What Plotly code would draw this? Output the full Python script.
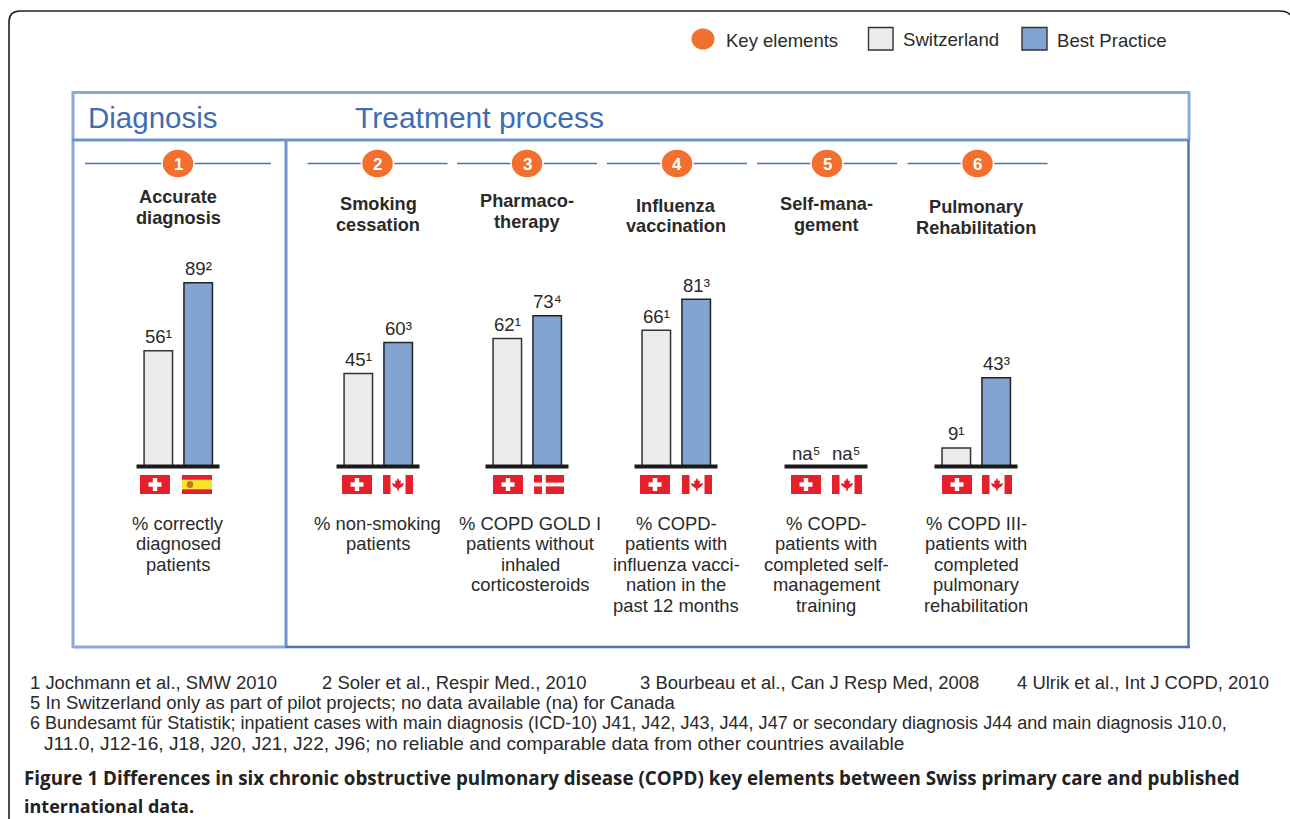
import plotly.graph_objects as go

# ---------- data ----------
swiss_values = [56, 45, 62, 66, None, 9]
best_values = [89, 60, 73, 81, None, 43]
swiss_refs = ["¹", "¹", "¹", "¹", "⁵", "¹"]
best_refs = ["²", "³", "⁴", "³", "⁵", "³"]
element_titles = [["Accurate", "diagnosis"], ["Smoking", "cessation"], ["Pharmaco-", "therapy"],
                  ["Influenza", "vaccination"], ["Self-mana-", "gement"], ["Pulmonary", "Rehabilitation"]]
element_notes = [["% correctly", "diagnosed", "patients"],
                 ["% non-smoking", "patients"],
                 ["% COPD GOLD I", "patients without", "inhaled", "corticosteroids"],
                 ["% COPD-", "patients with", "influenza vacci-", "nation in the", "past 12 months"],
                 ["% COPD-", "patients with", "completed self-", "management", "training"],
                 ["% COPD III-", "patients with", "completed", "pulmonary", "rehabilitation"]]
best_flags = ["ES", "CA", "DK", "CA", "CA", "CA"]
footnotes_row1 = ["1 Jochmann et al., SMW 2010", "2 Soler et al., Respir Med., 2010",
                  "3 Bourbeau et al., Can J Resp Med, 2008", "4 Ulrik et al., Int J COPD, 2010"]
footnote5 = "5 In Switzerland only as part of pilot projects; no data available (na) for Canada"
footnote6a = "6 Bundesamt für Statistik; inpatient cases with main diagnosis (ICD-10) J41, J42, J43, J44, J47 or secondary diagnosis J44 and main diagnosis J10.0,"
footnote6b = "J11.0, J12-16, J18, J20, J21, J22, J96; no reliable and comparable data from other countries available"
caption1 = "Figure 1 Differences in six chronic obstructive pulmonary disease (COPD) key elements between Swiss primary care and published"
caption2 = "international data."

# ---------- layout constants (pixels) ----------
W, H = 1290, 819
BASE_Y = 466.5
PX_PER_UNIT = 2.065
group_x = [178, 378, 527, 676, 826, 976]
badge_x = [178, 377.5, 527, 677, 827, 977.5]
rule_half = [93, 70, 70, 70, 70, 70]
title_y = [197, 204, 201, 205.5, 204, 207]
note_x = [178, 377.5, 530, 676, 826, 976]
ch_flag_x = [155, 357, 508, 655, 806, 957]
other_flag_x = [197, 398, 549, 697, 847, 997]
FONT = "Liberation Sans"
TXT = "#2a2a2a"
LIGHT = "#8aaad8"
MID = "#6f95cb"
DARK = "#4a74b4"
HEAD = "#3f6db1"
ORANGE = "#f36f2e"
GREY = "#ebebed"
BLUE = "#82a4d3"
RED = "#e6202a"

fig = go.Figure()
x_sw = [g - 19.7 for g in group_x]
x_bp = [g + 20.2 for g in group_x]
fig.add_bar(x=x_sw, y=swiss_values, width=28.5, name="Switzerland", marker=dict(color=GREY, line=dict(color="#333", width=1.5)), showlegend=False, hoverinfo="skip")
fig.add_bar(x=x_bp, y=best_values, width=28.5, name="Best Practice", marker=dict(color=BLUE, line=dict(color="#222", width=1.5)), showlegend=False, hoverinfo="skip")

shapes, notes = [], []

def line(x0, y0, x1, y1, color, width):
    shapes.append(dict(type="line", xref="x", yref="y2", x0=x0, y0=y0, x1=x1, y1=y1, line=dict(color=color, width=width)))

def rect(x0, y0, x1, y1, fill, lc=None, lw=0):
    shapes.append(dict(type="rect", xref="x", yref="y2", x0=x0, y0=y0, x1=x1, y1=y1, fillcolor=fill, line=dict(color=lc or fill, width=lw)))

def ell(cx, cy, rx, ry, fill, lc=None, lw=0):
    shapes.append(dict(type="circle", xref="x", yref="y2", x0=cx - rx, y0=cy - ry, x1=cx + rx, y1=cy + ry, fillcolor=fill, line=dict(color=lc or fill, width=lw)))

def text(x, y, s, size, color=TXT, anchor="center", family=FONT):
    if anchor == "left":
        x -= 2  # annotation box padding
    notes.append(dict(xref="x", yref="y2", x=x, y=y, text=s, showarrow=False, xanchor=anchor, yanchor="middle",
                      font=dict(family=family, size=size, color=color)))

# outer frame
shapes.append(dict(type="path", xref="x", yref="y2", path=f"M 9,{H} L 9,22 Q 9,11 20,11 L 1279,11 Q 1288,11 1290,15",
                   line=dict(color="#222", width=1.6)))

# panels
line(72, 92.5, 1190, 92.5, LIGHT, 3)
line(73, 91, 73, 648, LIGHT, 3)
line(1189, 92, 1189, 140, LIGHT, 3)
line(72, 140, 1190, 140, MID, 3)
line(73, 647, 286, 647, LIGHT, 3)
line(286, 139, 286, 648, MID, 3)
line(286, 647, 1190, 647, DARK, 2.6)
line(1188.5, 140, 1188.5, 648, DARK, 2.4)

text(87.5, 117.5, "Diagnosis", 29.5, HEAD, "left")
text(355, 117.5, "Treatment process", 30, HEAD, "left")

# legend
ell(703, 39, 11.5, 10.5, ORANGE)
text(726, 40, "Key elements", 18.5, TXT, "left")
rect(868.5, 27.5, 893, 50, GREY, "#333", 1.4)
text(903, 39, "Switzerland", 18.6, TXT, "left")
rect(1022, 27.5, 1047, 50, BLUE, "#333", 1.4)
text(1057, 40, "Best Practice", 18.6, TXT, "left")

def flag_ch(cx):
    x0, y0, w, h = cx - 15, 475, 30, 19
    rect(x0, y0, x0 + w, y0 + h, RED)
    rect(cx - 6.5, y0 + 7.3, cx + 6.5, y0 + 11.7, "white")
    rect(cx - 2.2, y0 + 3, cx + 2.2, y0 + 16, "white")

def flag_ca(cx):
    x0, y0, w, h = cx - 15, 475, 30, 19
    rect(x0, y0, x0 + w, y0 + h, "white")
    rect(x0, y0, x0 + 7.5, y0 + h, RED)
    rect(x0 + w - 7.5, y0, x0 + w, y0 + h, RED)
    cy = y0 + 9
    shapes.append(dict(type="path", xref="x", yref="y2",
                       path=f"M {cx},{cy-6} L {cx+1.5},{cy-3} L {cx+3},{cy-3.5} L {cx+2.5},{cy} L {cx+6},{cy-1} L {cx+5},{cy+2} "
                            f"L {cx+1},{cy+4.5} L {cx+.5},{cy+7} L {cx-.5},{cy+7} L {cx-1},{cy+4.5} L {cx-5},{cy+2} L {cx-6},{cy-1} L {cx-2.5},{cy} L {cx-3},{cy-3.5} L {cx-1.5},{cy-3} Z",
                       fillcolor=RED, line=dict(color=RED, width=0)))

def flag_es(cx):
    x0, y0, w, h = cx - 15, 475, 30, 19
    rect(x0, y0, x0 + w, y0 + h, RED)
    rect(x0, y0 + 4.7, x0 + w, y0 + 14.3, "#f7e32a")
    ell(x0 + 8, y0 + 9.5, 3.2, 3.6, "#c9702f")

def flag_dk(cx):
    x0, y0, w, h = cx - 15, 475, 30, 19
    rect(x0, y0, x0 + w, y0 + h, RED)
    rect(x0, y0 + 7.6, x0 + w, y0 + 11.4, "white")
    rect(x0 + 8, y0, x0 + 11.8, y0 + h, "white")

flag_draw = {"ES": flag_es, "CA": flag_ca, "DK": flag_dk}

for i, g in enumerate(group_x):
    b = badge_x[i]
    line(b - rule_half[i], 163.5, b + rule_half[i], 163.5, DARK, 1.4)
    ell(b, 163.5, 16, 14.5, ORANGE, "white", 1.5)
    text(b, 164, f"<b>{i + 1}</b>", 17, "white")
    for k, s in enumerate(element_titles[i]):
        text(g, title_y[i] + 20.5 * k, f"<b>{s}</b>", 18.2)
    line(g - 41.5, BASE_Y, g + 41.5, BASE_Y, "#1a1a1a", 4)
    flag_ch(ch_flag_x[i])
    flag_draw[best_flags[i]](other_flag_x[i])
    for k, s in enumerate(element_notes[i]):
        text(note_x[i], 523 + 20.5 * k, s, 18.4)

    # value labels sit above their bars, on the value axis
    for xs, vals, refs in ((x_sw, swiss_values, swiss_refs), (x_bp, best_values, best_refs)):
        v = vals[i]
        label = f"{v if v is not None else 'na'}{refs[i]}"
        notes.append(dict(xref="x", yref="y", x=xs[i], y=v if v is not None else 0, text=label, showarrow=False,
                          yanchor="middle", xanchor="center", yshift=14 if v is not None else 13,
                          font=dict(family=FONT, size=18.6, color=TXT)))

# footnotes
for x, s in zip([30, 322, 640, 1017], footnotes_row1):
    text(x, 682, s, 18.45, TXT, "left")
text(30, 702, footnote5, 18.47, TXT, "left")
text(30, 723, footnote6a, 18.05, TXT, "left")
text(44, 743, footnote6b, 19.1, TXT, "left")
text(24, 778, f"<b>{caption1}</b>", 18.8, "#222", "left", "Open Sans")
text(24, 806, f"<b>{caption2}</b>", 18.0, "#222", "left", "Open Sans")

fig.update_layout(
    width=W, height=H, margin=dict(l=0, r=0, t=0, b=0, pad=0), autosize=False,
    paper_bgcolor="white", plot_bgcolor="white", showlegend=False, barmode="overlay",
    xaxis=dict(range=[0, W], visible=False, fixedrange=True),
    yaxis=dict(range=[-(H - BASE_Y) / PX_PER_UNIT, BASE_Y / PX_PER_UNIT], visible=False, fixedrange=True),
    yaxis2=dict(range=[H, 0], visible=False, overlaying="y", fixedrange=True),
    shapes=shapes, annotations=notes,
)
# invisible anchor so the pixel axis exists
fig.add_scatter(x=[0], y=[0], yaxis="y2", mode="markers", marker=dict(opacity=0), showlegend=False, hoverinfo="skip")

fig.write_html("out.html", config=dict(displayModeBar=False),
               post_script="document.body.style.margin='0';document.body.style.overflow='hidden';")
